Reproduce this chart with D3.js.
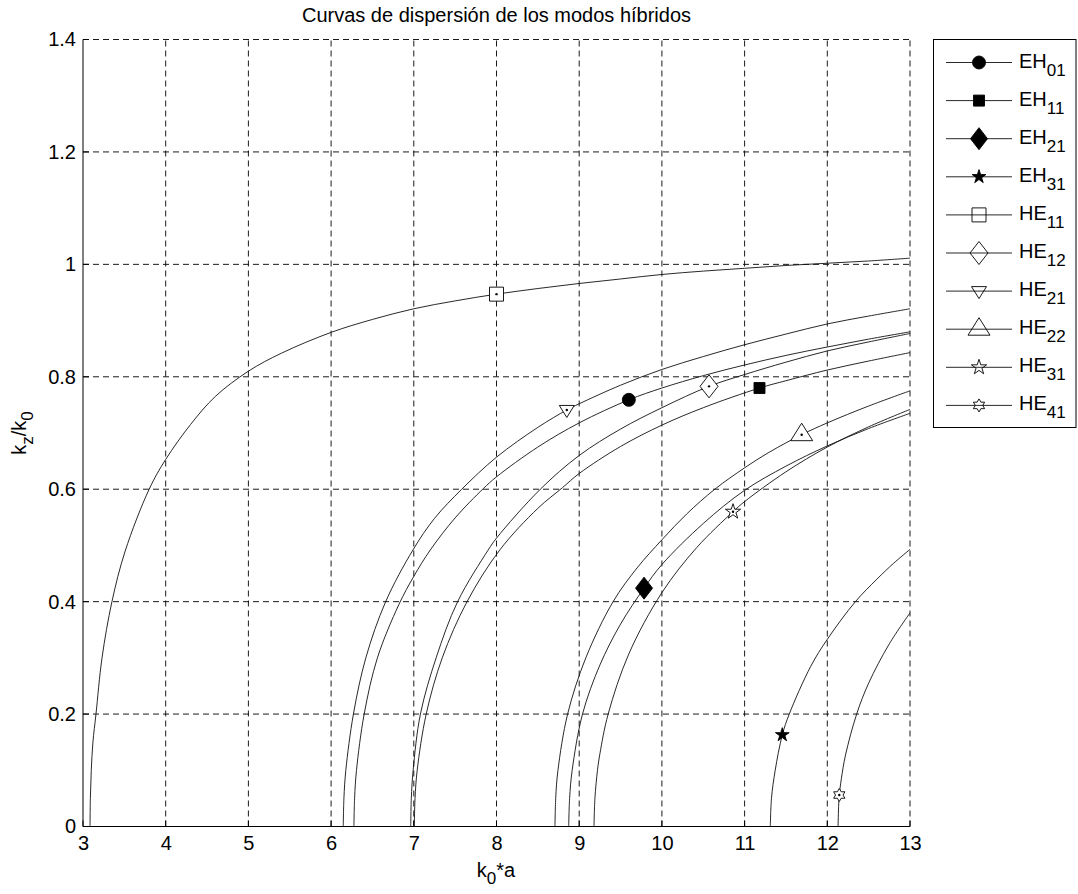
<!DOCTYPE html>
<html>
<head>
<meta charset="utf-8">
<script src="https://cdn.jsdelivr.net/npm/d3@7"></script>
<style>
  body { margin: 0; background: #fff; }
  svg { display: block; }
  text { font-family: "Liberation Sans", Arial, Helvetica, sans-serif; fill: #000; }
</style>
</head>
<body>
<svg id="chart" width="1078" height="894"></svg>
<script>
// Normalised frequency k0*a and propagation constant kz/k0 for each hybrid mode
const ka_EH01 = [6.276, 6.284, 6.307, 6.40, 6.56, 6.82, 7.0, 7.20, 7.5, 7.84, 8.0, 8.5, 9.0, 9.6, 10.0, 10.5, 11.0, 11.5, 12.0, 12.5, 13.0];
const kz_EH01 = [0, 0.05, 0.10, 0.20, 0.30, 0.395, 0.445, 0.492, 0.549, 0.601, 0.622, 0.675, 0.718, 0.759, 0.780, 0.802, 0.821, 0.838, 0.853, 0.867, 0.880];

const ka_EH11 = [7.006, 7.015, 7.041, 7.15, 7.344, 7.644, 8.04, 8.5, 8.80, 9.0, 9.5, 10.0, 10.5, 11.18, 11.5, 12.0, 12.5, 13.0];
const kz_EH11 = [0, 0.05, 0.10, 0.20, 0.30, 0.40, 0.492, 0.566, 0.603, 0.628, 0.676, 0.714, 0.745, 0.780, 0.793, 0.812, 0.828, 0.843];

const ka_EH21 = [8.873, 8.884, 8.915, 9.04, 9.251, 9.5, 9.784, 10.0, 10.5, 11.0, 11.5, 12.0, 12.5, 13.0];
const kz_EH21 = [0, 0.05, 0.10, 0.20, 0.2875, 0.36, 0.424, 0.466, 0.539, 0.598, 0.641, 0.677, 0.708, 0.735];

const ka_EH31 = [11.311, 11.325, 11.37, 11.456, 11.54, 11.8, 12.0, 12.34, 12.6, 12.8, 13.0];
const kz_EH31 = [0, 0.05, 0.10, 0.163, 0.20, 0.285, 0.333, 0.40, 0.44, 0.468, 0.493];

const ka_HE11 = [3.085, 3.089, 3.10, 3.12, 3.157, 3.23, 3.35, 3.51, 3.80, 4.0, 4.3, 4.6, 5.0, 5.4, 6.0, 6.5, 7.0, 7.5, 8.0, 8.5, 9.0, 9.5, 10.0, 10.5, 11.0, 11.5, 12.0, 12.5, 13.0];
const kz_HE11 = [0, 0.05, 0.10, 0.15, 0.20, 0.30, 0.40, 0.49, 0.60, 0.653, 0.715, 0.765, 0.81, 0.842, 0.879, 0.902, 0.921, 0.935, 0.947, 0.957, 0.966, 0.974, 0.982, 0.988, 0.993, 0.998, 1.002, 1.006, 1.011];

const ka_HE12 = [6.963, 6.970, 6.992, 7.08, 7.27, 7.53, 7.90, 8.0, 8.53, 9.0, 9.5, 10.0, 10.57, 11.0, 11.5, 12.0, 12.5, 13.0];
const kz_HE12 = [0, 0.05, 0.10, 0.20, 0.30, 0.40, 0.492, 0.513, 0.60, 0.66, 0.707, 0.745, 0.783, 0.804, 0.826, 0.846, 0.862, 0.877];

const ka_HE21 = [6.147, 6.155, 6.178, 6.27, 6.42, 6.66, 6.99, 7.25, 7.58, 8.0, 8.5, 8.85, 9.0, 9.5, 10.0, 10.5, 11.0, 11.5, 12.0, 12.5, 13.0];
const kz_HE21 = [0, 0.05, 0.10, 0.20, 0.30, 0.40, 0.492, 0.548, 0.60, 0.657, 0.71, 0.741, 0.752, 0.785, 0.813, 0.836, 0.857, 0.876, 0.894, 0.908, 0.921];

const ka_HE22 = [8.707, 8.716, 8.743, 8.86, 9.08, 9.41, 9.7, 10.0, 10.3, 10.64, 11.0, 11.3, 11.69, 12.0, 12.5, 13.0];
const kz_HE22 = [0, 0.05, 0.10, 0.20, 0.30, 0.40, 0.46, 0.51, 0.556, 0.60, 0.638, 0.666, 0.697, 0.718, 0.748, 0.775];

const ka_HE31 = [9.179, 9.19, 9.221, 9.251, 9.35, 9.6, 10.0, 10.42, 10.86, 11.0, 11.5, 12.0, 12.5, 13.0];
const kz_HE31 = [0, 0.05, 0.10, 0.13, 0.20, 0.307, 0.416, 0.496, 0.56, 0.578, 0.631, 0.675, 0.711, 0.742];

const ka_HE41 = [12.13, 12.138, 12.145, 12.17, 12.22, 12.355, 12.5, 12.75, 13.0];
const kz_HE41 = [0, 0.04, 0.056, 0.085, 0.127, 0.20, 0.255, 0.325, 0.38];

// Legend order and labels (family + subscript index)
const modeFamily = ["EH", "EH", "EH", "EH", "HE", "HE", "HE", "HE", "HE", "HE"];
const modeIndex  = ["01", "11", "21", "31", "11", "12", "21", "22", "31", "41"];
const modeKa = [ka_EH01, ka_EH11, ka_EH21, ka_EH31, ka_HE11, ka_HE12, ka_HE21, ka_HE22, ka_HE31, ka_HE41];
const modeKz = [kz_EH01, kz_EH11, kz_EH21, kz_EH31, kz_HE11, kz_HE12, kz_HE21, kz_HE22, kz_HE31, kz_HE41];
// k0*a of the sample on each curve that carries the mode's marker
const markerKa = [9.6, 11.18, 9.784, 11.456, 8.0, 10.57, 8.85, 11.69, 10.86, 12.145];

const xTicks = [3, 4, 5, 6, 7, 8, 9, 10, 11, 12, 13];
const yTicks = [0, 0.2, 0.4, 0.6, 0.8, 1.0, 1.2, 1.4];
const titleText = "Curvas de dispersión de los modos híbridos";

// ---- layout ----
const plot = { left: 83, right: 910, top: 39.5, bottom: 826.5 };
const svg = d3.select("#chart");
const x = d3.scaleLinear().domain([3, 13]).range([plot.left, plot.right]);
const y = d3.scaleLinear().domain([0, 1.4]).range([plot.bottom, plot.top]);

// ---- marker shapes ----
function starPath(n, R, r) {
  const pts = [];
  for (let i = 0; i < 2 * n; i++) {
    const a = -Math.PI / 2 + i * Math.PI / n;
    const rad = i % 2 === 0 ? R : r;
    pts.push([rad * Math.cos(a), rad * Math.sin(a)]);
  }
  return "M" + pts.map(p => p[0].toFixed(2) + "," + p[1].toFixed(2)).join("L") + "Z";
}
const shapes = [
  { d: d3.symbol(d3.symbolCircle, Math.PI * 6.5 * 6.5)(), filled: true },
  { d: "M-5.5,-5.5H5.5V5.5H-5.5Z", filled: true },
  { d: "M0,-11L8.5,0L0,11L-8.5,0Z", filled: true },
  { d: starPath(5, 7.2, 7.2 * 0.382), filled: true },
  { d: "M-7,-7H7V7H-7Z", filled: false },
  { d: "M0,-11.5L9,0L0,11.5L-9,0Z", filled: false },
  { d: "M-7.5,-4.5L7.5,-4.5L0,7.5Z", filled: false },
  { d: "M0,-11.5L11,6L-11,6Z", filled: false },
  { d: starPath(5, 8, 8 * 0.382), filled: false },
  { d: starPath(6, 6.5, 6.5 / Math.sqrt(3)), filled: false }
];

// ---- grid ----
const grid = svg.append("g").attr("stroke", "#000").attr("stroke-width", 0.9)
  .attr("stroke-dasharray", "6,4").attr("fill", "none");
grid.selectAll("line.gx").data(xTicks.filter(t => t !== 3)).join("line")
  .attr("x1", d => x(d)).attr("x2", d => x(d)).attr("y1", plot.bottom).attr("y2", plot.top);
grid.selectAll("line.gy").data(yTicks.filter(t => t !== 0)).join("line")
  .attr("y1", d => y(d)).attr("y2", d => y(d)).attr("x1", plot.left).attr("x2", plot.right);

// ---- axes ----
const xAxis = d3.axisBottom(x).tickValues(xTicks).tickSize(0).tickPadding(8).tickFormat(d3.format("d"));
const yAxis = d3.axisLeft(y).tickValues(yTicks).tickSize(0).tickPadding(7)
  .tickFormat(d => d === 0 ? "0" : (d === 1 ? "1" : d3.format(".1f")(d)));
const gx = svg.append("g").attr("transform", `translate(0,${plot.bottom})`).call(xAxis);
const gy = svg.append("g").attr("transform", `translate(${plot.left},0)`).call(yAxis);
[gx, gy].forEach(g => {
  g.select(".domain").remove();
  g.selectAll("text").attr("font-size", 20).attr("font-family", "Liberation Sans, Arial, sans-serif").attr("fill", "#000");
});
gx.selectAll("text").attr("dy", "0.78em");
// inward tick marks
const ticks = svg.append("g").attr("stroke", "#000").attr("stroke-width", 1);
ticks.selectAll("line.tx").data(xTicks).join("line")
  .attr("x1", d => x(d)).attr("x2", d => x(d)).attr("y1", plot.bottom).attr("y2", plot.bottom - 6);
ticks.selectAll("line.ty").data(yTicks).join("line")
  .attr("y1", d => y(d)).attr("y2", d => y(d)).attr("x1", plot.left).attr("x2", plot.left + 6);
svg.append("line").attr("x1", plot.left).attr("x2", plot.right).attr("y1", plot.bottom).attr("y2", plot.bottom)
  .attr("stroke", "#000").attr("stroke-width", 1);
svg.append("line").attr("x1", plot.left).attr("x2", plot.left).attr("y1", plot.bottom).attr("y2", plot.top)
  .attr("stroke", "#000").attr("stroke-width", 1);

// ---- curves ----
const line = d3.line().x(d => x(d[0])).y(d => y(d[1])).curve(d3.curveCatmullRom.alpha(0.5));
const curves = svg.append("g").attr("fill", "none").attr("stroke", "#111").attr("stroke-width", 0.9);
modeKa.forEach((ka, i) => {
  const pts = ka.map((v, j) => [v, modeKz[i][j]]);
  curves.append("path").attr("d", line(pts));
});

// ---- markers on the curves ----
const marks = svg.append("g");
modeKa.forEach((ka, i) => {
  const j = ka.indexOf(markerKa[i]);
  const px = x(ka[j]), py = y(modeKz[i][j]);
  const s = shapes[i];
  marks.append("path").attr("d", s.d).attr("transform", `translate(${px},${py})`)
    .attr("fill", s.filled ? "#000" : "#fff").attr("stroke", "#000").attr("stroke-width", 0.9);
  if (!s.filled) {
    marks.append("circle").attr("cx", px).attr("cy", py).attr("r", 1.2).attr("fill", "#000");
  }
});

// ---- title and axis labels ----
svg.append("text").attr("x", (plot.left + plot.right) / 2).attr("y", 22).attr("text-anchor", "middle")
  .attr("font-size", 20).text(titleText);

const xl = svg.append("text").attr("x", 496).attr("y", 877).attr("text-anchor", "middle").attr("font-size", 20);
xl.append("tspan").text("k");
xl.append("tspan").attr("dy", 7).attr("font-size", 17).text("0");
xl.append("tspan").attr("dy", -7).text("*a");

const yl = svg.append("text").attr("transform", `translate(26,${(plot.top + plot.bottom) / 2}) rotate(-90)`)
  .attr("text-anchor", "middle").attr("font-size", 20);
yl.append("tspan").text("k");
yl.append("tspan").attr("dy", 7).attr("font-size", 17).text("z");
yl.append("tspan").attr("dy", -7).text("/k");
yl.append("tspan").attr("dy", 7).attr("font-size", 17).text("0");

// ---- legend ----
const leg = svg.append("g");
leg.append("rect").attr("x", 933.5).attr("y", 39.5).attr("width", 142.5).attr("height", 388)
  .attr("fill", "#fff").attr("stroke", "#000").attr("stroke-width", 1);
modeFamily.forEach((fam, i) => {
  const ry = 62.5 + i * 38.1;
  leg.append("line").attr("x1", 946).attr("x2", 1012).attr("y1", ry).attr("y2", ry)
    .attr("stroke", "#111").attr("stroke-width", 0.9);
  const s = shapes[i];
  leg.append("path").attr("d", s.d).attr("transform", `translate(979,${ry})`)
    .attr("fill", s.filled ? "#000" : "none").attr("stroke", "#000").attr("stroke-width", 0.9);
  const t = leg.append("text").attr("x", 1019).attr("y", ry + 5).attr("font-size", 20);
  t.append("tspan").text(fam);
  t.append("tspan").attr("dy", 8).attr("font-size", 17).text(modeIndex[i]);
});
</script>
</body>
</html>
